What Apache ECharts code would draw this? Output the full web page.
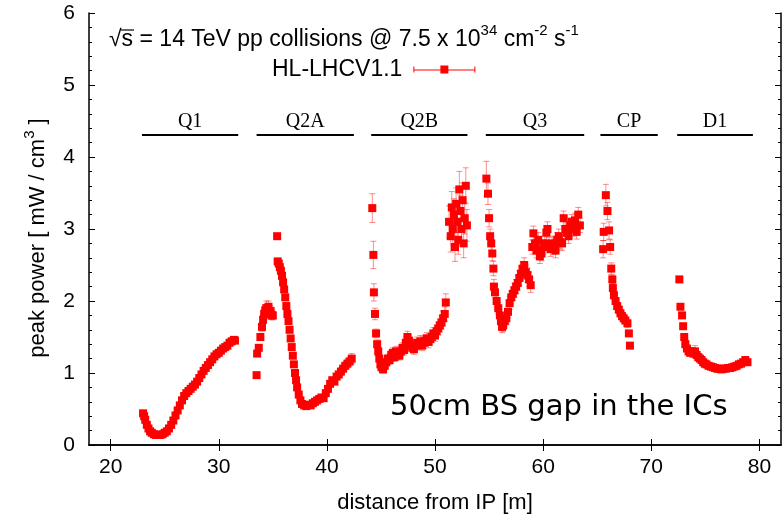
<!DOCTYPE html>
<html>
<head>
<meta charset="utf-8">
<script src="https://cdn.jsdelivr.net/npm/echarts@6/dist/echarts.min.js"></script>
<style>html,body{margin:0;padding:0;background:#fff;}#c{width:783px;height:517px;}</style>
</head>
<body>
<div id="c"></div>
<script>
// ---- data: [distance (m), peak power (mW/cm^3), error] ----
var q1Data = [
 [23.0,0.44,0.02],[23.1,0.40,0.02],[23.2,0.35,0.02],[23.35,0.28,0.02],[23.5,0.23,0.02],[23.65,0.19,0.02],
 [23.8,0.17,0.02],[24.0,0.15,0.02],[24.2,0.14,0.02],[24.4,0.14,0.02],[24.6,0.14,0.02],[24.8,0.15,0.02],
 [25.0,0.17,0.02],[25.2,0.19,0.02],[25.4,0.23,0.02],[25.6,0.28,0.02],[25.8,0.34,0.02],[26.0,0.41,0.02],
 [26.2,0.48,0.02],[26.4,0.55,0.02],[26.6,0.62,0.02],[26.8,0.68,0.02],[27.0,0.72,0.02],[27.2,0.75,0.02],
 [27.4,0.78,0.02],[27.6,0.81,0.02],[27.8,0.84,0.02],[28.0,0.88,0.02],[28.2,0.93,0.02],[28.4,0.98,0.02],
 [28.6,1.03,0.02],[28.8,1.07,0.02],[29.0,1.11,0.02],[29.2,1.15,0.02],[29.4,1.19,0.02],[29.6,1.23,0.02],
 [29.8,1.26,0.02],[30.0,1.28,0.02],[30.2,1.31,0.02],[30.4,1.34,0.02],[30.6,1.36,0.02],[30.8,1.38,0.02],
 [31.0,1.42,0.02],[31.2,1.44,0.02],[31.4,1.46,0.02],[31.5,1.45,0.02]
];
var q2aData = [
 [33.5,0.97,0.03],[33.55,1.27,0.04],[33.7,1.35,0.04],[33.85,1.5,0.05],[34.0,1.64,0.06],[34.1,1.74,0.06],
 [34.2,1.82,0.07],[34.3,1.87,0.08],[34.4,1.9,0.1],[34.5,1.85,0.08],[34.6,1.92,0.08],[34.7,1.82,0.07],
 [34.8,1.86,0.07],[34.9,1.8,0.06],[35.0,1.8,0.06],
 [35.4,2.9,0.03],[35.45,2.55,0.03],[35.55,2.52,0.03],[35.65,2.47,0.03],[35.75,2.42,0.03],[35.85,2.35,0.03],
 [35.95,2.26,0.03],[36.05,2.16,0.03],[36.15,2.05,0.03],[36.25,1.93,0.03],[36.35,1.82,0.03],[36.45,1.72,0.03],
 [36.55,1.6,0.03],[36.65,1.48,0.03],[36.75,1.36,0.03],[36.85,1.24,0.03],[36.95,1.12,0.03],[37.05,1.0,0.03],
 [37.15,0.9,0.03],[37.25,0.8,0.03],[37.4,0.7,0.03],[37.55,0.62,0.03],[37.7,0.57,0.03],[37.9,0.55,0.03],
 [38.1,0.54,0.03],[38.3,0.56,0.03],[38.5,0.55,0.03],[38.7,0.58,0.03],[38.9,0.6,0.03],[39.1,0.62,0.03],
 [39.3,0.64,0.03],[39.5,0.66,0.03],[39.7,0.65,0.03],[39.9,0.72,0.03],[40.1,0.78,0.03],[40.3,0.85,0.03],
 [40.5,0.9,0.04],[40.7,0.88,0.04],[40.9,0.95,0.04],[41.1,0.98,0.04],[41.3,1.02,0.05],[41.5,1.06,0.05],
 [41.7,1.1,0.05],[41.9,1.13,0.06],[42.1,1.16,0.06],[42.3,1.2,0.07]
];
var q2bData = [
 [44.2,3.29,0.2],[44.3,2.64,0.19],[44.35,2.12,0.12],[44.45,1.82,0.08],[44.55,1.55,0.06],[44.65,1.4,0.06],
 [44.75,1.3,0.06],[44.85,1.2,0.05],[44.95,1.12,0.05],[45.05,1.08,0.05],[45.2,1.05,0.05],[45.35,1.1,0.05],
 [45.5,1.15,0.05],[45.65,1.2,0.06],[45.8,1.18,0.06],[45.95,1.25,0.06],[46.1,1.28,0.07],[46.25,1.22,0.06],
 [46.4,1.3,0.07],[46.55,1.27,0.06],[46.7,1.24,0.06],[46.85,1.3,0.07],[47.0,1.35,0.07],[47.15,1.32,0.07],
 [47.3,1.42,0.08],[47.45,1.5,0.08],[47.6,1.45,0.08],[47.75,1.38,0.07],[47.9,1.35,0.07],[48.05,1.33,0.07],
 [48.2,1.38,0.07],[48.35,1.42,0.08],[48.5,1.4,0.07],[48.65,1.44,0.08],[48.8,1.38,0.07],[48.95,1.42,0.08],
 [49.1,1.45,0.08],[49.25,1.48,0.08],[49.4,1.43,0.08],[49.55,1.47,0.08],[49.7,1.5,0.08],[49.85,1.55,0.08],
 [50.0,1.52,0.08],[50.15,1.58,0.08],[50.3,1.62,0.09],[50.45,1.66,0.09],[50.6,1.7,0.09],[50.75,1.76,0.1],
 [50.9,1.82,0.1],[51.0,1.98,0.12],
 [51.3,3.1,0.22],[51.45,2.9,0.22],[51.55,3.3,0.22],[51.65,3.0,0.22],[51.75,3.2,0.22],[51.85,2.75,0.2],
 [51.95,3.35,0.22],[52.05,3.1,0.22],[52.15,2.85,0.2],[52.25,3.55,0.25],[52.35,3.25,0.22],[52.45,3.0,0.22],
 [52.55,3.4,0.24],[52.65,2.8,0.2],[52.75,3.15,0.22],[52.85,3.6,0.25],[52.95,3.05,0.22]
];
var q3Data = [
 [54.75,3.7,0.24],[54.9,3.49,0.15],[55.0,3.15,0.12],[55.1,2.9,0.1],[55.2,2.8,0.1],[55.3,2.66,0.1],
 [55.4,2.45,0.1],[55.45,2.2,0.1],[55.55,2.12,0.08],[55.7,2.0,0.08],[55.85,1.9,0.08],[56.0,1.8,0.08],
 [56.1,1.72,0.08],[56.2,1.64,0.08],[56.3,1.66,0.08],[56.45,1.72,0.08],[56.6,1.76,0.08],[56.75,1.85,0.08],
 [56.9,1.97,0.09],[57.05,2.05,0.09],[57.2,2.1,0.09],[57.35,2.15,0.1],[57.5,2.2,0.1],[57.65,2.25,0.1],
 [57.8,2.32,0.1],[57.95,2.38,0.1],[58.1,2.45,0.1],[58.25,2.5,0.1],[58.4,2.4,0.1],[58.55,2.36,0.1],
 [58.7,2.3,0.1],[58.85,2.22,0.1],[59.0,2.75,0.1],[59.1,2.94,0.1],[59.25,2.8,0.1],[59.4,2.7,0.1],
 [59.55,2.85,0.1],[59.7,2.62,0.1],[59.85,2.66,0.1],[60.0,2.75,0.1],[60.15,2.8,0.1],[60.3,2.95,0.1],
 [60.4,3.0,0.1],[60.55,2.78,0.1],[60.7,2.72,0.1],[60.85,2.8,0.1],[61.0,2.75,0.1],[61.15,2.7,0.1],
 [61.3,2.85,0.1],[61.45,2.9,0.1],[61.6,2.82,0.1],[61.75,2.8,0.1],[61.9,3.15,0.1],[62.05,3.0,0.1],
 [62.2,2.95,0.1],[62.35,2.9,0.1],[62.5,3.05,0.1],[62.65,3.1,0.1],[62.8,3.0,0.1],[62.95,3.12,0.1],
 [63.1,2.96,0.1],[63.25,3.2,0.1],[63.4,3.05,0.1]
];
var cpData = [
 [65.55,2.72,0.12],[65.6,2.96,0.12],[65.8,3.47,0.15],[65.95,3.25,0.12],[66.1,2.98,0.12],[66.2,2.75,0.1],
 [66.3,2.45,0.08],[66.4,2.3,0.06],[66.45,2.18,0.06],[66.55,2.08,0.05],[66.7,2.0,0.05],[66.85,1.93,0.05],
 [67.0,1.88,0.05],[67.15,1.83,0.05],[67.3,1.79,0.05],[67.45,1.76,0.05],[67.6,1.73,0.05],[67.8,1.69,0.06],
 [67.93,1.55,0.04],[68.03,1.38,0.03]
];
var d1Data = [
 [72.6,2.3,0.04],[72.7,1.92,0.03],[72.85,1.8,0.03],[72.95,1.65,0.03],[73.05,1.5,0.03],[73.15,1.4,0.03],
 [73.3,1.34,0.03],[73.45,1.3,0.04],[73.6,1.28,0.04],[73.75,1.3,0.05],[73.9,1.27,0.05],[74.05,1.3,0.08],
 [74.2,1.25,0.05],[74.35,1.22,0.04],[74.5,1.2,0.04],[74.65,1.18,0.04],[74.8,1.15,0.03],[74.95,1.13,0.03],
 [75.1,1.12,0.03],[75.3,1.1,0.03],[75.5,1.09,0.03],[75.7,1.08,0.03],[75.9,1.07,0.03],[76.1,1.06,0.03],
 [76.3,1.06,0.03],[76.5,1.05,0.03],[76.7,1.06,0.03],[76.9,1.06,0.03],[77.1,1.07,0.03],[77.3,1.07,0.03],
 [77.5,1.08,0.03],[77.7,1.09,0.03],[77.9,1.1,0.03],[78.1,1.12,0.03],[78.3,1.13,0.04],[78.5,1.15,0.04],
 [78.7,1.18,0.04],[78.9,1.15,0.04]
];
// magnet regions: [label, from (m), to (m)]
var regions = [['Q1',22.9,31.8],['Q2A',33.5,42.5],['Q2B',44.1,53.0],['Q3',54.7,63.8],['CP',65.3,70.6],['D1',72.4,79.4]];
var regionLevel = 4.31;
var xTicks = [20,30,40,50,60,70,80];
var seriesName = 'HL-LHCV1.1';

var allData = [].concat(q1Data, q2aData, q2bData, q3Data, cpData, d1Data);

var chart = echarts.init(document.getElementById('c'), null, {renderer:'canvas'});
var font = 'Liberation Sans, Arial, sans-serif';
var red = '#ff0000';

function errRender(params, api){
  var x = api.value(0), y = api.value(1), e = api.value(2);
  var hi = api.coord([x, y + e]), lo = api.coord([x, y - e]);
  var c = 3;
  var st = {stroke:'rgba(255,0,0,0.45)', lineWidth:1};
  return {type:'group', children:[
    {type:'line', shape:{x1:hi[0], y1:hi[1], x2:lo[0], y2:lo[1]}, style:st},
    {type:'line', shape:{x1:hi[0]-c, y1:hi[1], x2:hi[0]+c, y2:hi[1]}, style:st},
    {type:'line', shape:{x1:lo[0]-c, y1:lo[1], x2:lo[0]+c, y2:lo[1]}, style:st}
  ]};
}

var markData = regions.map(function(r){
  return [{coord:[r[1], regionLevel], name:r[0]}, {coord:[r[2], regionLevel]}];
});

var axisLineStyle = {color:'#000', width:1.5};
var supRich = function(size, supSize, colorKey){
  var a = {fontFamily:font, fontSize:size, lineHeight:size + 5, verticalAlign:'bottom'};
  var s = {fontFamily:font, fontSize:supSize, lineHeight:supSize, verticalAlign:'top'};
  a[colorKey] = '#000'; s[colorKey] = '#000';
  return {a:a, s:s};
};

chart.setOption({
  animation:false,
  backgroundColor:'#fff',
  grid:{left:89, right:2, top:13, bottom:72, outerBoundsMode:'none', containLabel:false},
  legend:{
    data:[{name:seriesName, icon:'path://M0,4.5h62v1h-62z M0,1.5h1v6h-1z M61,1.5h1v6h-1z M27,0.5h8v8h-8z'}],
    left:267, top:53, align:'right', itemWidth:62, itemHeight:9,
    textStyle:{fontFamily:font, fontSize:23, color:'#000', padding:[0,6,0,0]}
  },
  xAxis:[{
    type:'value', min:18, max:82, position:'bottom',
    name:'distance from IP [m]', nameLocation:'middle', nameGap:47,
    nameTextStyle:{fontFamily:font, fontSize:22, color:'#000'},
    axisLine:{show:true, lineStyle:axisLineStyle},
    axisTick:{show:true, inside:true, length:6, customValues:xTicks, lineStyle:{color:'#000'}},
    axisLabel:{customValues:xTicks, fontFamily:font, fontSize:21, color:'#000', margin:12},
    splitLine:{show:false}
  },{
    type:'value', min:18, max:82, position:'top',
    axisLine:{show:true, lineStyle:axisLineStyle},
    axisTick:{show:true, inside:true, length:6, customValues:xTicks, lineStyle:{color:'#000'}},
    axisLabel:{show:false}, splitLine:{show:false}
  }],
  yAxis:[{
    type:'value', min:0, max:6, interval:1, position:'left',
    name:'{a|peak power [ mW / cm}{s|3}{a| ]}', nameLocation:'middle', nameGap:40, nameRotate:90,
    nameTextStyle:{fontFamily:font, fontSize:22, color:'#000', padding:[0,18,0,0], rich:supRich(22, 15, 'color')},
    axisLine:{show:true, lineStyle:axisLineStyle},
    axisTick:{show:true, inside:true, length:6, lineStyle:{color:'#000'}},
    minorTick:{show:true, splitNumber:5, length:3, lineStyle:{color:'#000'}},
    axisLabel:{fontFamily:font, fontSize:21, color:'#000', margin:14},
    splitLine:{show:false}
  },{
    type:'value', min:0, max:6, interval:1, position:'right',
    axisLine:{show:true, lineStyle:axisLineStyle},
    axisTick:{show:true, inside:true, length:6, lineStyle:{color:'#000'}},
    minorTick:{show:true, splitNumber:5, length:3, lineStyle:{color:'#000'}},
    axisLabel:{show:false}, splitLine:{show:false}
  }],
  graphic:[
    {type:'text', left:109, top:23, style:{
      text:'{a|√s = 14 TeV pp collisions @ 7.5 x 10}{s|34}{a| cm}{s|-2}{a| s}{s|-1}',
      rich:supRich(23, 15, 'fill')
    }},
    {type:'line', shape:{x1:121, y1:30, x2:134, y2:30}, style:{stroke:'#000', lineWidth:1.2}},
    {type:'text', left:390, top:393, style:{text:'50cm BS gap in the ICs', fontFamily:'DejaVu Sans, Verdana, sans-serif', fontSize:29, fill:'#000'}}
  ],
  series:[
    {type:'custom', name:'err', xAxisIndex:0, yAxisIndex:0, data:allData, renderItem:errRender, z:1, silent:true},
    {type:'scatter', name:seriesName, xAxisIndex:0, yAxisIndex:0, data:allData,
     symbol:'rect', symbolSize:8, itemStyle:{color:red, opacity:1}, z:2,
     markLine:{silent:true, symbol:['none','none'], animation:false,
       lineStyle:{color:'#000', width:2, type:'solid'},
       label:{show:true, position:'middle', formatter:'{b}', distance:3,
         fontFamily:'Liberation Serif, Times New Roman, serif', fontSize:20, color:'#000'},
       data:markData}
    }
  ]
});
</script>
</body>
</html>
